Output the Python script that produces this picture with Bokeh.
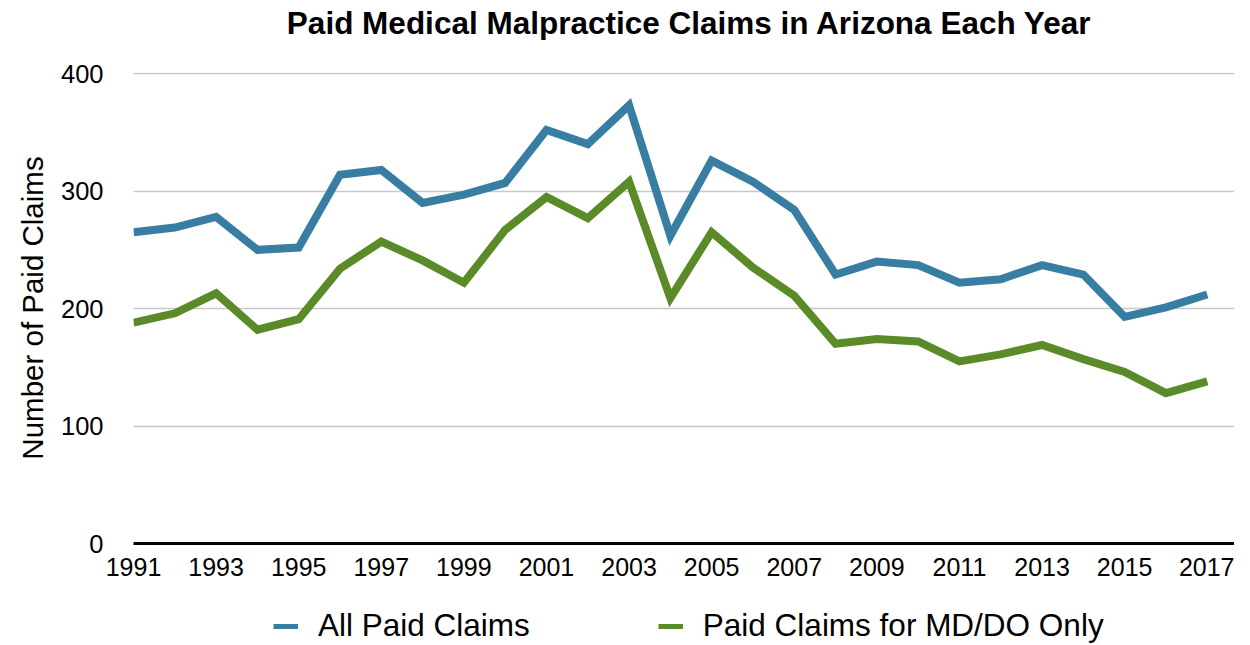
from bokeh.plotting import figure
from bokeh.layouts import column
from bokeh.models import FixedTicker, Legend, LegendItem, Range1d
from bokeh.core.properties import value
from bokeh.embed import file_html
from bokeh.resources import INLINE

years = list(range(1991, 2018))
all_claims = [265, 269, 278, 250, 252, 314, 318, 290, 297, 307, 352, 340, 373, 262,
              326, 308, 284, 229, 240, 237, 222, 225, 237, 229, 193, 201, 212]
md_do_claims = [188, 196, 213, 182, 191, 234, 257, 241, 222, 267, 295, 277, 308, 209,
                265, 235, 211, 170, 174, 172, 155, 161, 169, 157, 146, 128, 138]
x_ticks = list(range(1991, 2018, 2))
y_ticks = [0, 100, 200, 300, 400]
series_names = ["All Paid Claims", "Paid Claims for MD/DO Only"]
title_text = "Paid Medical Malpractice Claims in Arizona Each Year"
colors = ["#387EA3", "#5B8B29"]

FONT = "Liberation Sans"


def strip(height):
    f = figure(width=1234, height=height, output_backend="svg", toolbar_location=None,
               x_range=Range1d(0, 1), y_range=Range1d(0, 1),
               min_border_left=0, min_border_right=0, min_border_top=0,
               min_border_bottom=0)
    f.axis.visible = False
    f.grid.visible = False
    f.outline_line_color = None
    f.border_fill_color = "white"
    f.background_fill_color = "white"
    return f


# title strip
t = strip(40)
t.text(x=[0.505], y=[0.45], text=[title_text], text_font=value(FONT),
       text_font_size="31.5px", text_font_style="bold", text_color="black",
       text_align="center", text_baseline="middle")

# main chart
p = figure(width=1234, height=553, output_backend="svg", toolbar_location=None,
           x_range=Range1d(1991, 2017.66), y_range=Range1d(0, 401),
           min_border_left=133, min_border_right=0, min_border_top=32,
           min_border_bottom=50)
p.outline_line_color = None
p.background_fill_color = "white"
p.border_fill_color = "white"

p.line(years, all_claims, line_color=colors[0], line_width=8, line_join="miter")
p.line(years, md_do_claims, line_color=colors[1], line_width=8, line_join="miter")

xa = p.xaxis[0]
xa.ticker = FixedTicker(ticks=x_ticks)
xa.axis_line_color = "black"
xa.axis_line_width = 3
xa.major_tick_line_color = None
xa.minor_tick_line_color = None
xa.major_tick_out = 0
xa.major_tick_in = 0
xa.major_label_text_font = FONT
xa.major_label_text_font_size = "25px"
xa.major_label_text_color = "black"
xa.major_label_standoff = 14

ya = p.yaxis[0]
ya.ticker = FixedTicker(ticks=y_ticks)
ya.axis_line_color = None
ya.major_tick_line_color = None
ya.minor_tick_line_color = None
ya.major_tick_out = 0
ya.major_tick_in = 0
ya.major_label_text_font = FONT
ya.major_label_text_font_size = "25.5px"
ya.major_label_text_color = "black"
ya.major_label_standoff = 30
ya.axis_label = "Number of Paid Claims"
ya.axis_label_text_font = FONT
ya.axis_label_text_font_size = "29.5px"
ya.axis_label_text_font_style = "normal"
ya.axis_label_text_color = "black"
ya.axis_label_standoff = 9

p.xgrid.grid_line_color = None
p.ygrid.grid_line_color = "#C8C8C8"
p.ygrid.grid_line_width = 1.5

# legend strip below the chart
q = strip(52)
l1 = q.line([5, 6], [5, 6], line_color=colors[0], line_width=5)
l2 = q.line([5, 6], [5, 6], line_color=colors[1], line_width=5)
legend = Legend(items=[LegendItem(label=series_names[0], renderers=[l1]),
                       LegendItem(label=series_names[1], renderers=[l2])],
                orientation="horizontal", location=(140, 1),
                label_text_font=FONT, label_text_font_size="31.5px",
                label_text_color="black", glyph_width=25, glyph_height=20,
                label_standoff=20, spacing=128, border_line_color=None,
                background_fill_alpha=0, margin=0, padding=0)
q.add_layout(legend)

layout = column(t, p, q, spacing=0)
open("out.html", "w").write(file_html(layout, INLINE))
